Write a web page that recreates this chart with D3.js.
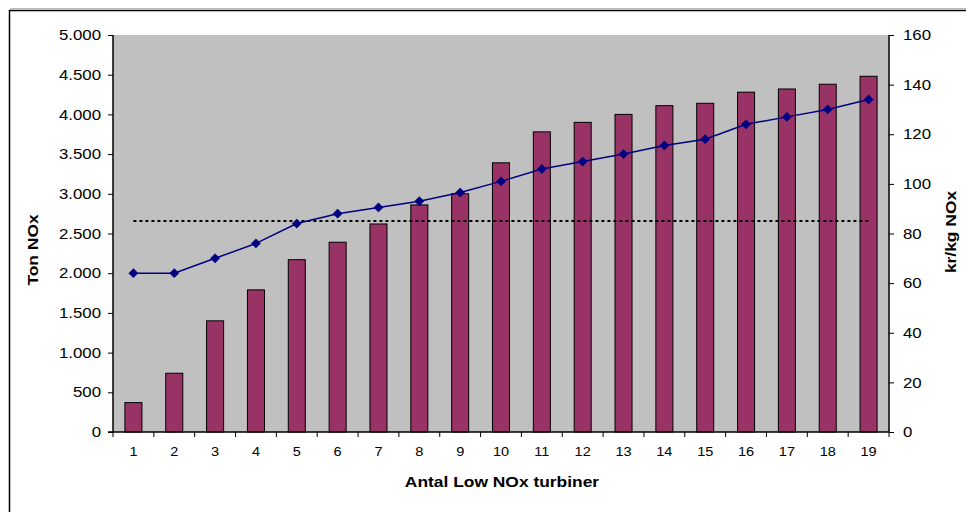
<!DOCTYPE html>
<html>
<head>
<meta charset="utf-8">
<script src="https://cdn.jsdelivr.net/npm/d3@7"></script>
<style>
  html, body { margin: 0; padding: 0; background: #fff; }
  svg { display: block; font-family: "Liberation Sans", Arial, sans-serif; }
</style>
</head>
<body>
<svg id="chart" width="966" height="512"></svg>
<script>
// Number of Low NOx turbines installed
const turbines = [1,2,3,4,5,6,7,8,9,10,11,12,13,14,15,16,17,18,19];
// Cumulative NOx reduction, tonnes (left axis)
const tonNOx = [370,740,1400,1790,2170,2390,2620,2860,3000,3390,3780,3900,4000,4110,4140,4280,4320,4380,4480];
// Cost per kg NOx, kr (right axis)
const krPerKg = [64,64,70,76,84,88,90.5,93,96.5,101,106,109,112,115.5,118,124,127,130,134];
// Reference cost level, kr/kg
const refLevel = 85;

const leftTicks = [0,500,1000,1500,2000,2500,3000,3500,4000,4500,5000];
const rightTicks = [0,20,40,60,80,100,120,140,160];

const svg = d3.select("#chart");
const plot = { left: 113, right: 889, top: 35, bottom: 432 };
const widen = 1.16;   // text is set slightly wide

// Outer chart frame
svg.append("rect")
  .attr("x", 9.5).attr("y", 10.5)
  .attr("width", 1000).attr("height", 600)
  .attr("fill", "none").attr("stroke", "#000").attr("stroke-width", 1.5);
svg.append("line")
  .attr("x1", 10).attr("x2", 966).attr("y1", 8.5).attr("y2", 8.5)
  .attr("stroke", "#bbb").attr("stroke-width", 1);

const x = d3.scaleBand().domain(turbines).range([plot.left, plot.right]).paddingInner(0).paddingOuter(0);
const yL = d3.scaleLinear().domain([0, 5000]).range([plot.bottom, plot.top]);
const yR = d3.scaleLinear().domain([0, 160]).range([plot.bottom, plot.top]);

// Plot area background
svg.append("rect")
  .attr("x", plot.left).attr("y", plot.top)
  .attr("width", plot.right - plot.left).attr("height", plot.bottom - plot.top)
  .attr("fill", "#c0c0c0");

// Bars
const bw = x.bandwidth() / 2.4;
svg.append("g").selectAll("rect")
  .data(turbines)
  .join("rect")
  .attr("x", (d) => x(d) + (x.bandwidth() - bw) / 2)
  .attr("y", (d, i) => yL(tonNOx[i]))
  .attr("width", bw)
  .attr("height", (d, i) => yL(0) - yL(tonNOx[i]))
  .attr("fill", "#993366")
  .attr("stroke", "#000")
  .attr("stroke-width", 1);

const cx = (d) => x(d) + x.bandwidth() / 2;

// Reference level (dotted)
svg.append("line")
  .attr("x1", cx(turbines[0])).attr("x2", cx(turbines[turbines.length - 1]))
  .attr("y1", yR(refLevel)).attr("y2", yR(refLevel))
  .attr("stroke", "#000").attr("stroke-width", 2)
  .attr("stroke-dasharray", "3,3");

// Cost line with diamond markers
const line = d3.line().x((d) => cx(d)).y((d, i) => yR(krPerKg[i]));
svg.append("path")
  .datum(turbines)
  .attr("d", line)
  .attr("fill", "none")
  .attr("stroke", "#000080")
  .attr("stroke-width", 1.5);

const diamond = d3.symbol().type(d3.symbolDiamond2).size(55);
svg.append("g").selectAll("path")
  .data(turbines)
  .join("path")
  .attr("d", diamond)
  .attr("transform", (d, i) => `translate(${cx(d)},${yR(krPerKg[i])})`)
  .attr("fill", "#000080")
  .attr("stroke", "#000080")
  .attr("stroke-width", 0.5);

// Axes
const fmt = (v) => d3.format(",")(v).replace(/,/g, ".");
const leftAxis = d3.axisLeft(yL).tickValues(leftTicks).tickFormat(fmt).tickSize(5).tickPadding(7);
const gL = svg.append("g").attr("transform", `translate(${plot.left},0)`).call(leftAxis);

const rightAxis = d3.axisRight(yR).tickValues(rightTicks).tickSize(5).tickPadding(9);
const gR = svg.append("g").attr("transform", `translate(${plot.right},0)`).call(rightAxis);

const bottomAxis = d3.axisBottom(x).tickSize(0).tickPadding(15);
const gB = svg.append("g").attr("transform", `translate(0,${plot.bottom})`).call(bottomAxis);

[gL, gR, gB].forEach((g) => {
  g.select(".domain").attr("stroke", "#000").attr("stroke-width", 1.5);
  g.selectAll(".tick line").attr("stroke", "#000").attr("stroke-width", 1);
  g.selectAll("text").attr("fill", "#000").attr("font-family", "Liberation Sans, Arial, sans-serif");
});
gL.selectAll("text").attr("font-size", 14.5);
gR.selectAll("text").attr("font-size", 14.5);
gB.selectAll("text").attr("font-size", 12.5);
gL.select(".domain").attr("d", `M-0,${plot.top}V${plot.bottom}`);
gR.select(".domain").attr("d", `M0,${plot.top}V${plot.bottom}`);
gB.select(".domain").attr("d", `M${plot.left - 5},0H${plot.right}`);

// Category separators on the x axis
const edges = turbines.map((d) => x(d)).concat([plot.right]);
gB.append("g").selectAll("line")
  .data(edges)
  .join("line")
  .attr("x1", (d) => d).attr("x2", (d) => d)
  .attr("y1", 0).attr("y2", 5)
  .attr("stroke", "#000").attr("stroke-width", 1);

// Axis titles
svg.append("text")
  .attr("x", (plot.left + plot.right) / 2 + 1).attr("y", 487)
  .attr("text-anchor", "middle")
  .attr("font-size", 15).attr("font-weight", "bold")
  .text("Antal Low NOx turbiner");

svg.append("text")
  .attr("transform", `translate(38,250) rotate(-90)`)
  .attr("text-anchor", "middle")
  .attr("font-size", 15).attr("font-weight", "bold")
  .text("Ton NOx");

svg.append("text")
  .attr("transform", `translate(956,232) rotate(-90)`)
  .attr("text-anchor", "middle")
  .attr("font-size", 15).attr("font-weight", "bold")
  .text("kr/kg NOx");

// Widen every label a little
svg.selectAll("text").each(function () {
  const len = this.getComputedTextLength();
  d3.select(this).attr("textLength", len * widen).attr("lengthAdjust", "spacingAndGlyphs");
});
</script>
</body>
</html>
